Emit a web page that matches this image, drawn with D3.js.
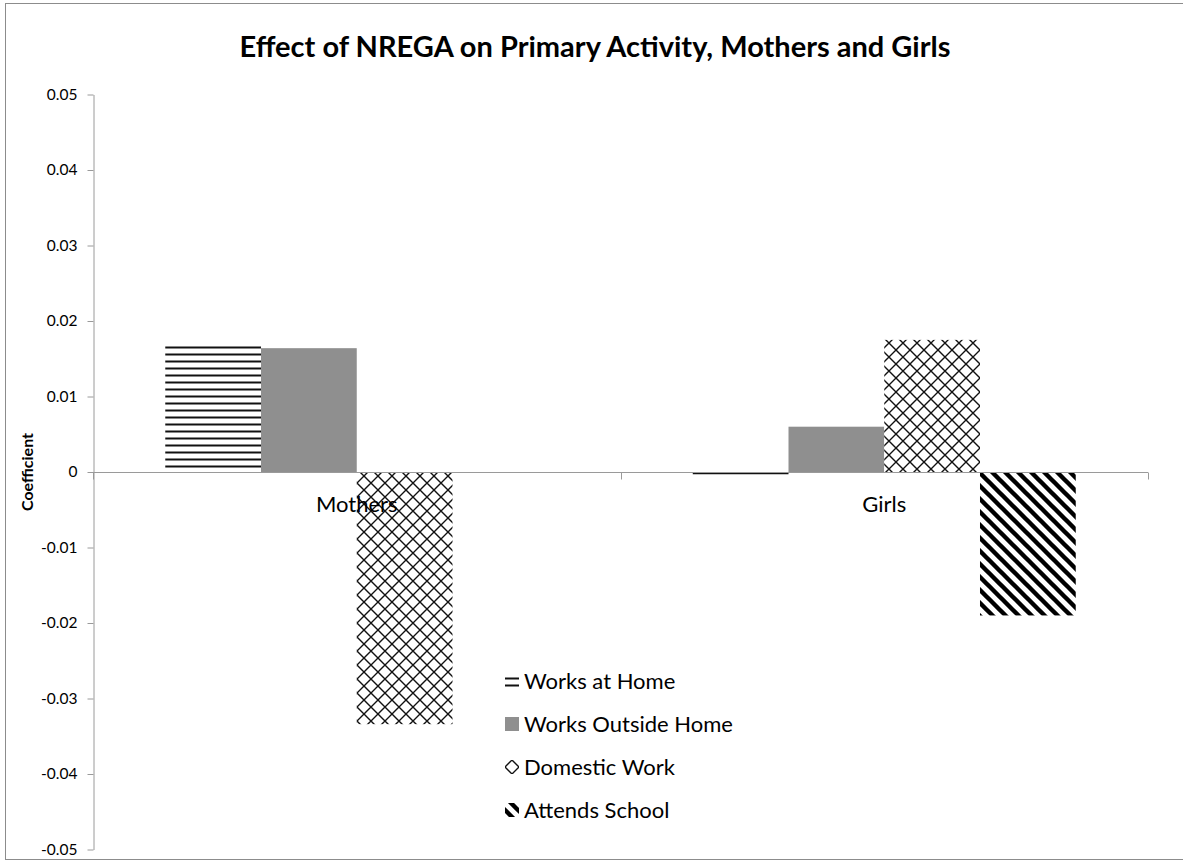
<!DOCTYPE html>
<html>
<head>
<meta charset="utf-8">
<script src="https://cdn.jsdelivr.net/npm/d3@7"></script>
<style>
  html, body { margin: 0; padding: 0; background: #fff; }
  svg { display: block; }
  text { font-family: Lato, "Open Sans", sans-serif; fill: #000; }
</style>
</head>
<body>
<svg id="chart" width="1183" height="861"></svg>
<script>
// Regression coefficients by group and primary activity
const categories = ["Mothers", "Girls"];
const seriesNames = ["Works at Home", "Works Outside Home", "Domestic Work", "Attends School"];
const worksAtHome = [0.0167, -0.0002];
const worksOutsideHome = [0.0164, 0.0060];
const domesticWork = [-0.0334, 0.0175];
const attendsSchool = [null, -0.0190];
const yTickValues = [0.05, 0.04, 0.03, 0.02, 0.01, 0, -0.01, -0.02, -0.03, -0.04, -0.05];
const titleText = "Effect of NREGA on Primary Activity, Mothers and Girls";
const yAxisTitle = "Coefficient";

const seriesValues = [worksAtHome, worksOutsideHome, domesticWork, attendsSchool];
const rows = [];
categories.forEach((c, ci) => {
  seriesNames.forEach((s, si) => {
    const v = seriesValues[si][ci];
    if (v !== null) rows.push({ category: c, series: s, value: v });
  });
});

const svg = d3.select("#chart");
const plot = { left: 93, right: 1148, top: 94.5, bottom: 849.5 };

// Scales
const gap = 0.274;
const x0 = d3.scaleBand().domain(categories).range([plot.left, plot.right])
  .paddingInner(gap).paddingOuter(gap / 2);
const x1 = d3.scaleBand().domain(seriesNames).range([0, x0.bandwidth()]);
const y = d3.scaleLinear().domain([-0.05, 0.05]).range([plot.bottom, plot.top]);
const zeroY = Math.round(y(0)) + 0.5;

// Fill patterns
const defs = svg.append("defs");
const H = 7;
const pH = defs.append("pattern").attr("id", "pat-h")
  .attr("patternUnits", "userSpaceOnUse").attr("width", 8).attr("height", H)
  .attr("patternTransform", `translate(0,${y(0) + 0.5})`);
pH.append("rect").attr("width", 8).attr("height", H).attr("fill", "#fff");
pH.append("rect").attr("y", 0).attr("width", 8).attr("height", 2).attr("fill", "#111");

const P = 14;
const pX = defs.append("pattern").attr("id", "pat-x")
  .attr("patternUnits", "userSpaceOnUse").attr("width", P).attr("height", P);
pX.append("rect").attr("width", P).attr("height", P).attr("fill", "#fff");
pX.append("path").attr("d", `M0,0L${P},${P}M${P},0L0,${P}`)
  .attr("stroke", "#111").attr("stroke-width", 1.4).attr("fill", "none");

const D = 13;
const pD = defs.append("pattern").attr("id", "pat-d")
  .attr("patternUnits", "userSpaceOnUse").attr("width", D).attr("height", D);
pD.append("rect").attr("width", D).attr("height", D).attr("fill", "#fff");
pD.append("path").attr("d", `M-2,-2L${D + 2},${D + 2}M${D - 2},-2L${D + 2},2M-2,${D - 2}L2,${D + 2}`)
  .attr("stroke", "#000").attr("stroke-width", 4.4).attr("fill", "none");

const fills = {
  "Works at Home": "url(#pat-h)",
  "Works Outside Home": "#8f8f8f",
  "Domestic Work": "url(#pat-x)",
  "Attends School": "url(#pat-d)"
};

// Outer frame
svg.append("rect").attr("x", 5.5).attr("y", 3.5).attr("width", 1200).attr("height", 856)
  .attr("fill", "none").attr("stroke", "#8c8c8c").attr("stroke-width", 1);

// Bars (very small values keep a visible sliver)
svg.append("g").selectAll("rect").data(rows).join("rect")
  .attr("x", d => x0(d.category) + x1(d.series))
  .attr("width", x1.bandwidth())
  .attr("y", d => Math.min(y(d.value), y(0)))
  .attr("height", d => Math.max(Math.abs(y(d.value) - y(0)), 2.5))
  .attr("fill", d => fills[d.series]);

// Y axis
const fmt = v => (v === 0 ? "0" : v.toFixed(2));
const yAxis = svg.append("g").attr("transform", `translate(${plot.left + 0.5},0)`)
  .call(d3.axisLeft(y).tickValues(yTickValues).tickFormat(fmt).tickSizeInner(6).tickSizeOuter(0).tickPadding(10));
yAxis.select(".domain").attr("stroke", "#9a9a9a");
yAxis.selectAll(".tick line").attr("stroke", "#9a9a9a");
yAxis.selectAll(".tick text").attr("font-size", 15.5).attr("font-family", "Lato, sans-serif").attr("fill", "#000");

// X axis along zero
const xg = svg.append("g");
xg.append("line").attr("x1", plot.left).attr("x2", plot.right).attr("y1", zeroY).attr("y2", zeroY)
  .attr("stroke", "#9a9a9a");
const step = x0.step();
const boundaries = d3.range(categories.length + 1).map(i => plot.left + i * step);
xg.selectAll("line.tk").data(boundaries).join("line").attr("class", "tk")
  .attr("x1", d => Math.round(d) + 0.5).attr("x2", d => Math.round(d) + 0.5)
  .attr("y1", zeroY).attr("y2", zeroY + 7).attr("stroke", "#9a9a9a");
xg.selectAll("text").data(categories).join("text")
  .attr("x", d => x0(d) + x0.bandwidth() / 2)
  .attr("y", 512)
  .attr("text-anchor", "middle").attr("font-size", 22)
  .text(d => d);

// Title
svg.append("text").attr("x", 595).attr("y", 57).attr("text-anchor", "middle")
  .attr("font-size", 29).attr("font-weight", "bold").text(titleText);

// Y axis title
svg.append("text").attr("transform", "translate(33,472) rotate(-90)")
  .attr("text-anchor", "middle").attr("font-size", 16).attr("font-weight", "bold").text(yAxisTitle);

// Legend
const legend = svg.append("g").attr("transform", "translate(505,681)");
const li = legend.selectAll("g").data(seriesNames).join("g")
  .attr("transform", (d, i) => `translate(0,${i * 43})`);
li.append("rect").attr("x", 0).attr("y", -7).attr("width", 14).attr("height", 14)
  .attr("fill", d => fills[d]);
li.append("text").attr("x", 19).attr("y", 0).attr("dy", "0.35em").attr("font-size", 22).text(d => d);
</script>
</body>
</html>
